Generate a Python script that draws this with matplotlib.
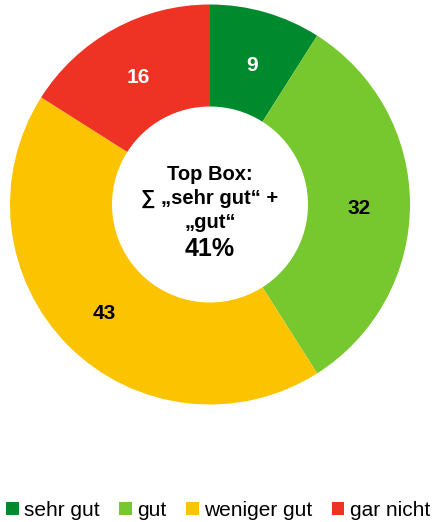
import matplotlib.pyplot as plt
from matplotlib.patches import Patch

plt.rcParams['font.family'] = ['Liberation Sans', 'DejaVu Sans']

labels = ['sehr gut', 'gut', 'weniger gut', 'gar nicht']
values = [9, 32, 43, 16]
colors = ['#008a2e', '#76c82e', '#fcc400', '#ee3324']
text_colors = ['white', 'black', 'black', 'white']
center_text = 'Top Box:\n∑ „sehr gut“ +\n„gut“'
center_value = '41%'

fig = plt.figure(figsize=(4.32, 5.22), dpi=100)
# donut area: x 10..410, y 4..405 (pixels)
ax = fig.add_axes([10 / 432, 1 - 405 / 522, 400 / 432, 401 / 522])

wedges, texts, autotexts = ax.pie(
    values, colors=colors, startangle=90, counterclock=False,
    radius=1.0, wedgeprops=dict(width=0.51, linewidth=0),
    autopct=lambda p: '', pctdistance=0.745)

for at, v, c in zip(autotexts, values, text_colors):
    x, y = at.get_position()
    at.set_position((x, y - 0.02))
    at.set_text(str(v))
    at.set_color(c)
    at.set_fontsize(15)
    at.set_fontweight('bold')

ax.text(0, 0.03, center_text, ha='center', va='center', fontsize=14.5,
        fontweight='bold', linespacing=1.35)
ax.text(0, -0.225, center_value, ha='center', va='center', fontsize=18,
        fontweight='bold')
ax.set_xlim(-1.0, 1.0)
ax.set_ylim(-1.0, 1.0)
ax.set_aspect('equal')

handles = [Patch(facecolor=c, edgecolor='none') for c in colors]
fig.legend(handles, labels, loc='center', bbox_to_anchor=(0.505, 1 - 510 / 522),
           ncol=4, frameon=False, fontsize=15, handlelength=0.6,
           handleheight=0.6, handletextpad=0.25, columnspacing=0.95,
           borderpad=0, borderaxespad=0)

fig.savefig('out.png', dpi=100)
